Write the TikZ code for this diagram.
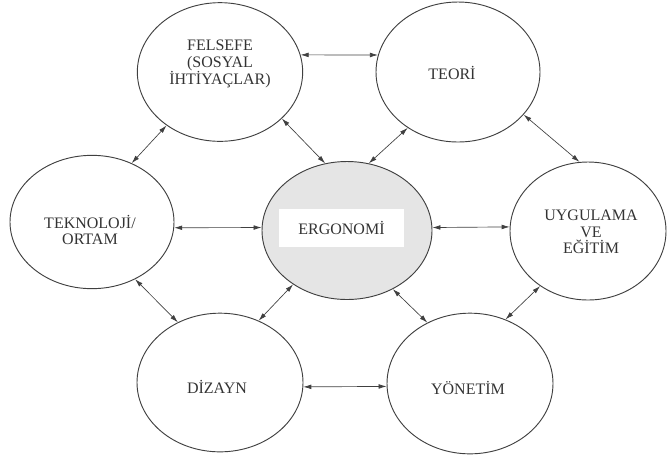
\documentclass[tikz,border=0pt]{standalone}
\usepackage{fontspec}
\setmainfont{Liberation Serif}
\usetikzlibrary{shapes.geometric,arrows.meta}

\begin{document}
\begin{tikzpicture}[x=0.75pt,y=-0.75pt]
                \tikzstyle{blob}=[ellipse,draw=black!75,line width=0.7pt,inner sep=0pt,minimum width=124pt,minimum height=104pt]
                \tikzstyle{txt}=[align=center,text=black!80,font=\fontsize{12}{12.5}\selectfont,inner sep=0pt]
                \tikzstyle{link}=[{Latex[length=6pt,width=3.5pt]}-{Latex[length=6pt,width=3.5pt]},draw=black!75,line width=0.5pt]
                \useasboundingbox (0,0) rectangle (667,455);
                        \node[blob] (felsefe) at (220,72){};
                        \node[blob,minimum width=123pt,minimum height=105pt] (teori) at (458,72){};
                        \node[blob,minimum width=123pt,minimum height=100pt] (tekno) at (92,222){};
                        \node[blob,fill=black!10,minimum width=127.5pt,minimum height=103.5pt] (ergo) at (347,230.5){};
                        \node[blob,minimum width=117pt,minimum height=103.5pt] (uygu) at (588,231){};
                        \node[blob,minimum width=124.5pt,minimum height=104pt] (dizayn) at (220,382.5){};
                        \node[blob,minimum width=124.5pt,minimum height=105.5pt] (yonetim) at (470,383.5){};

                        \node[txt] (felsefe-t) at (220,64) {FELSEFE\\(SOSYAL\\İHTİYAÇLAR)};
                        \node[txt] (teori-t) at (452,73) {TEORİ};
                        \node[txt] (tekno-t) at (90,230) {TEKNOLOJİ/\\ORTAM};
                        \node[txt,fill=white,minimum width=94pt,minimum height=28.5pt] (ergo-t) at (341.5,228) {ERGONOMİ};
                        \node[txt] (uygu-t) at (591,232) {UYGULAMA\\VE\\EĞİTİM};
                        \node[txt] (dizayn-t) at (217,387) {DİZAYN};
                        \node[txt] (yonetim-t) at (468,388) {YÖNETİM};

                    \foreach \from/\to in {felsefe.12/teori.168, felsefe.225/tekno.56, felsefe.-37/ergo.108, teori.228/ergo.72, teori.-33/uygu.97, tekno.-4/ergo.178, ergo.2/uygu.177, tekno.-53/dizayn.125, ergo.225/dizayn.58, ergo.-52/yonetim.125, uygu.-131/yonetim.61, dizayn.-3/yonetim.182}
                        \draw[link] (\from) -- (\to);
            \end{tikzpicture}
\end{document}
